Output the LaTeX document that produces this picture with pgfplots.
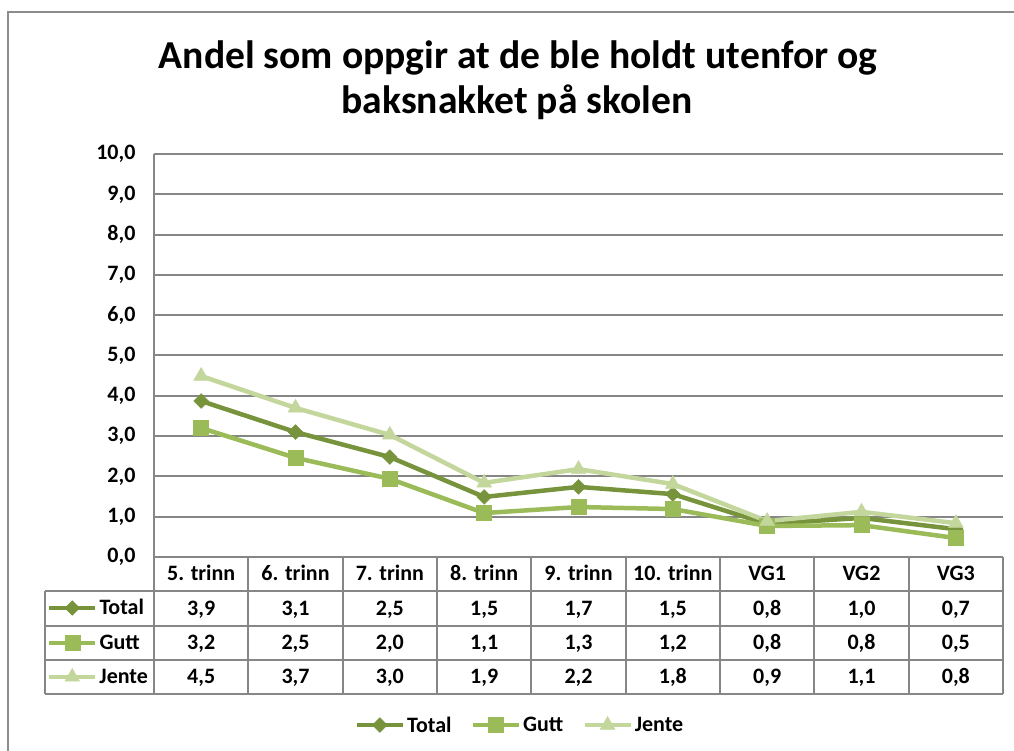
\documentclass[border=0pt]{standalone}
\usepackage{pgfplots}
\pgfplotsset{compat=1.18}
\usepackage{fontspec}
\setmainfont{Carlito}
\definecolor{cTotal}{RGB}{119,147,60}
\definecolor{cGutt}{RGB}{155,187,89}
\definecolor{cJente}{RGB}{195,214,155}
\definecolor{gridc}{RGB}{134,134,134}
\definecolor{framec}{RGB}{140,140,140}
\newcommand{\bfs}{\bfseries\fontsize{22}{26}\selectfont}
\pgfplotsset{
  legimg/.style={legend image code/.code={\draw[mark repeat=2,mark phase=2,##1] plot coordinates {(0pt,0pt) (23pt,0pt) (46pt,0pt)};}},
  sTotal/.style={color=cTotal, line width=4.5pt, mark=square*, mark size=5.2pt, mark options={rotate=45, solid, fill=cTotal, draw=cTotal, line width=0.5pt}},
  sGutt/.style={color=cGutt, line width=4.5pt, mark=square*, mark size=7.5pt, mark options={solid, fill=cGutt, draw=cGutt, line width=0.5pt}},
  sJente/.style={color=cJente, line width=4.5pt, mark=triangle*, mark size=8.5pt, mark options={solid, fill=cJente, draw=cJente, line width=0.5pt}},
  rowkey/.style={anchor=west, scale only axis, width=100pt, height=30pt, hide axis,
    xmin=0, xmax=1, ymin=0, ymax=1, legimg,
    legend style={at={(axis description cs:0,0.5)}, anchor=west, draw=none, fill=none,
      inner sep=0pt, outer sep=0pt, font=\bfs, nodes={inner sep=2pt}}},
}
\pgfplotstableread{
x Total Gutt Jente
0 3.87 3.20 4.49
1 3.10 2.46 3.70
2 2.48 1.94 3.03
3 1.49 1.09 1.84
4 1.74 1.24 2.18
5 1.56 1.19 1.81
6 0.82 0.77 0.89
7 0.97 0.79 1.12
8 0.69 0.47 0.84
}\datatab
\begin{document}
\begin{tikzpicture}[x=1pt,y=1pt]
\useasboundingbox (0,0) rectangle (1014,751);
\draw[framec, line width=2.2pt] (8,-5) -- (8,739) -- (1020,739);
% title
\node[anchor=base, font=\bfseries\fontsize{39.6}{46}\selectfont] at (518,682) {Andel som oppgir at de ble holdt utenfor og};
\node[anchor=base, font=\bfseries\fontsize{39.6}{46}\selectfont] at (517,637) {baksnakket på skolen};
\begin{axis}[
  at={(154pt,194pt)}, anchor=south west, scale only axis,
  width=849pt, height=403pt,
  xmin=-0.5, xmax=8.5, ymin=0, ymax=10,
  ytick={0,1,...,10}, xtick=\empty,
  axis x line*=bottom, axis y line*=left,
  axis line style={draw=gridc, line width=2pt, -},
  ymajorgrids, grid style={draw=gridc, line width=2pt},
  major tick length=0pt,
  /pgf/number format/.cd, fixed, fixed zerofill, precision=1, use comma, assume math mode=true,
  /pgfplots/.cd,
  yticklabel style={font=\bfs, xshift=-15pt},
  clip=false,
  legimg,
  legend columns=3,
  legend style={at={(axis description cs:0.431,-0.417)}, anchor=center, draw=none, fill=none, font=\bfs,
    nodes={inner sep=2pt}, /tikz/every even column/.append style={column sep=17pt}},
]
\addplot[sTotal] table[x=x,y=Total] {\datatab};
\addlegendentry{Total}
\addplot[sGutt] table[x=x,y=Gutt] {\datatab};
\addlegendentry{Gutt}
\addplot[sJente] table[x=x,y=Jente] {\datatab};
\addlegendentry{Jente}
\end{axis}
% data table
\foreach \yy in {160,125,91,57} \draw[gridc, line width=2pt] (45,\yy) -- (1003,\yy);
\draw[gridc, line width=2pt] (45,160) -- (45,57);
\draw[gridc, line width=2pt] (154,194) -- (154,57);
\foreach \k in {1,...,9} \draw[gridc, line width=2pt] ({154+94.333*\k},194) -- ({154+94.333*\k},57);
\foreach \lab [count=\i from 0] in {5. trinn,6. trinn,7. trinn,8. trinn,9. trinn,10. trinn,VG1,VG2,VG3}
  \node[anchor=base, font=\bfs, inner sep=0pt] at ({201.17+94.333*\i},170) {\lab};
\foreach \v [count=\i from 0] in {{3,9},{3,1},{2,5},{1,5},{1,7},{1,5},{0,8},{1,0},{0,7}}
  \node[anchor=base, font=\bfs, inner sep=0pt] at ({201.17+94.333*\i},135.5) {\v};
\foreach \v [count=\i from 0] in {{3,2},{2,5},{2,0},{1,1},{1,3},{1,2},{0,8},{0,8},{0,5}}
  \node[anchor=base, font=\bfs, inner sep=0pt] at ({201.17+94.333*\i},101) {\v};
\foreach \v [count=\i from 0] in {{4,5},{3,7},{3,0},{1,9},{2,2},{1,8},{0,9},{1,1},{0,8}}
  \node[anchor=base, font=\bfs, inner sep=0pt] at ({201.17+94.333*\i},67) {\v};
% legend keys of the table
\begin{axis}[rowkey, at={(47pt,143pt)}]
\addlegendimage{sTotal}\addlegendentry{Total}
\end{axis}
\begin{axis}[rowkey, at={(47pt,108pt)}]
\addlegendimage{sGutt}\addlegendentry{Gutt}
\end{axis}
\begin{axis}[rowkey, at={(47pt,74pt)}]
\addlegendimage{sJente}\addlegendentry{Jente}
\end{axis}
\end{tikzpicture}
\end{document}
